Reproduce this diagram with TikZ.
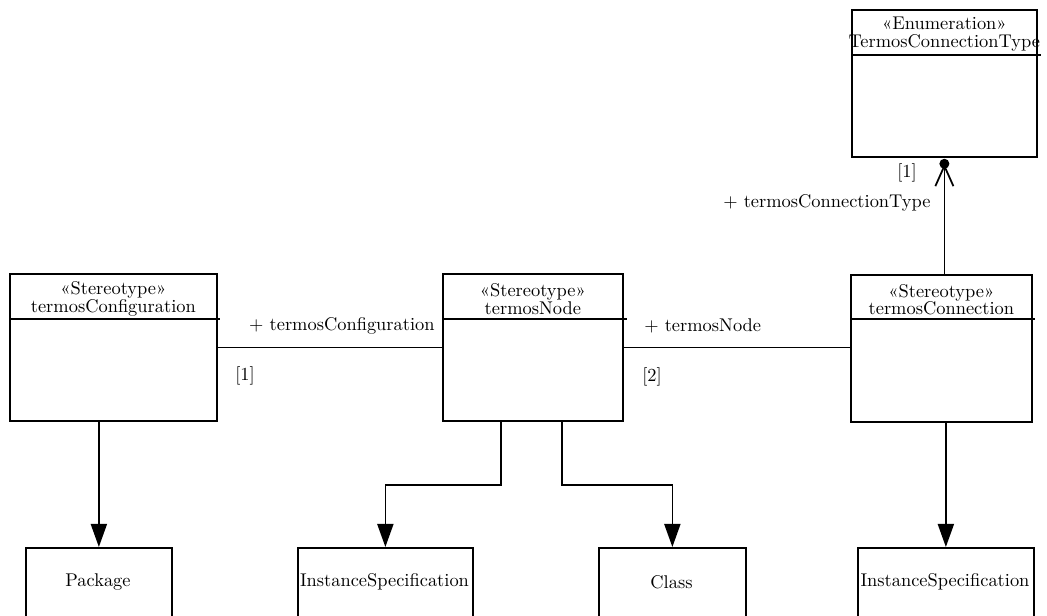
\documentclass[tikz,border=0pt]{standalone}
\usepackage{tikz}
\usetikzlibrary{positioning, arrows.meta}
\def\pu{0.543pt}
\tikzset{%
	uml/.style = {line width = 0.95pt},
	box/.style = {name = #1, rectangle, draw, uml, anchor = north west, inner sep = 0pt, minimum height = 147*\pu},
	leaf/.style = {name = #1, rectangle, draw, uml, anchor = north west, inner sep = 0pt, minimum height = 72*\pu},
	head/.style = {align = center, inner sep = 0pt},
	tag/.style = {inner sep = 0pt},
	gen/.style = {uml, -{Triangle[length = 12.5pt, width = 8.7pt]}},
	nav/.style = {uml, -{Straight Barb[length = 11pt, width = 9.8pt]}}
}
\begin{document}
\begin{tikzpicture}[x=\pu, y=-\pu]
			\useasboundingbox (0,0) rectangle (1047,616);
			\clip (0,0) rectangle (1047,616);
			% classes
			\node [box = {conf}, minimum width = 207*\pu] at (9,273) {};
			\node [box = {tnode}, minimum width = 180*\pu] at (442,273) {};
			\node [box = {conn}, minimum width = 181*\pu] at (850,274) {};
			\node [box = {ctype}, minimum width = 185*\pu] at (851,9) {};
			\node [head] (confh) at ([yshift=-26*\pu]conf.north) {«Stereotype»\\[-2.6pt]termosConfiguration};
			\node [head] (tnodeh) at ([yshift=-26*\pu]tnode.north) {«Stereotype»\\[-2.6pt]termosNode};
			\node [head] (connh) at ([yshift=-26*\pu]conn.north) {«Stereotype»\\[-2.6pt]termosConnection};
			\node [head] (ctypeh) at ([yshift=-25*\pu]ctype.north) {«Enumeration»\\[-2.6pt]TermosConnectionType};
			\draw [uml] ([yshift=-46*\pu]conf.north west) -- ([xshift=2*\pu, yshift=-46*\pu]conf.north east);
			\draw [uml] ([yshift=-46*\pu]tnode.north west) -- ([xshift=3*\pu, yshift=-46*\pu]tnode.north east);
			\draw [uml] ([yshift=-45*\pu]conn.north west) -- ([xshift=2*\pu, yshift=-45*\pu]conn.north east);
			\draw [uml] ([yshift=-46*\pu]ctype.north west) -- ([xshift=3*\pu, yshift=-46*\pu]ctype.north east);
			% metaclasses
			\node [leaf = {pkg}, minimum width = 146*\pu] at (25,547) {};
			\node [leaf = {inst1}, minimum width = 175*\pu] at (297,547) {};
			\node [leaf = {cls}, minimum width = 147*\pu] at (598,547) {};
			\node [leaf = {inst2}, minimum width = 176*\pu] at (857,547) {};
			\node [tag] (pkgt) at (98,582) {Package};
			\node [tag] (inst1t) at (384.5,582) {InstanceSpecification};
			\node [tag] (clst) at (671.5,582) {Class};
			\node [tag] (inst2t) at (945,582) {InstanceSpecification};
			% extensions
			\draw [gen] (conf.south -| pkg.north) -- (pkg.north);
			\draw [gen] ([xshift=-32*\pu]tnode.south) -- ++(0,63) -| (inst1.north);
			\draw [gen] ([xshift=29*\pu]tnode.south) -- ++(0,63) -| (cls.north);
			\draw [gen] (conn.south -| inst2.north) -- (inst2.north);
			% associations
			\path [uml] (conf.east) edge (conf.east -| tnode.west);
			\path [uml] (tnode.east) edge (tnode.east -| conn.west);
			\coordinate (typeend) at ([yshift=-6*\pu]ctype.south);
			\draw [nav] (conn.north -| typeend) -- (typeend);
			\fill (typeend) circle (5);
			\node [tag, anchor = east] (confrole) at (435,326) {+ termosConfiguration};
			\node [tag] (confmul) at (245,376) {[1]};
			\node [tag, anchor = west] (noderole) at (644,326) {+ termosNode};
			\node [tag] (nodemul) at (652,377) {[2]};
			\node [tag, anchor = east] (typerole) at (931,203) {+ termosConnectionType};
			\node [tag] (typemul) at (907,173) {[1]};
\end{tikzpicture}
\end{document}
